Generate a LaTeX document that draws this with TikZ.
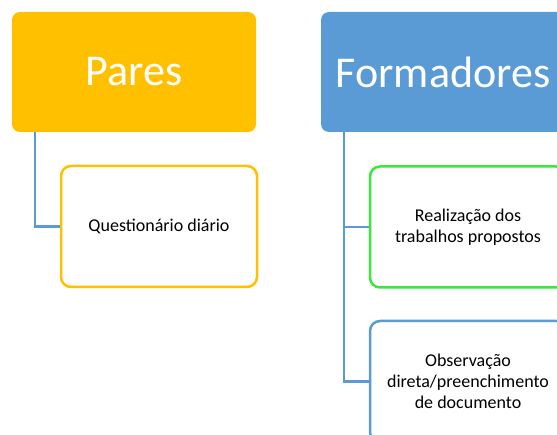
\documentclass[tikz,border=0pt]{standalone}
\usepackage{fontspec}
\setmainfont{Carlito}
\definecolor{paresorange}{RGB}{255,192,0}
\definecolor{formblue}{RGB}{91,155,213}
\definecolor{trabgreen}{RGB}{60,230,60}

\begin{document}
\begin{tikzpicture}[x=1pt, y=-1pt,
  headbox/.style = { rounded corners=8pt, minimum width=244pt, minimum height=120pt,
                     inner sep=0pt, text=white, font=\fontsize{44}{50}\selectfont },
  itembox/.style = { draw, line width=2.5pt, rounded corners=10pt, fill=white,
                     minimum width=196pt, minimum height=121pt, inner sep=0pt,
                     align=center, font=\fontsize{18}{21}\selectfont },
  stem/.style    = { draw=formblue, line width=2.5pt }]
  \useasboundingbox (0,0) rectangle (557,435);
  \clip (0,0) rectangle (557,435);
  % heads
  \node [headbox, fill=paresorange] (pares) at (134,72) {Pares};
  \node [headbox, fill=formblue]    (form)  at (443,72) {Formadores};
  % items
  \node [itembox, draw=paresorange] (quest) at (159,226.5) {Questionário diário};
  \node [itembox, draw=trabgreen]   (trab)  at (468,227)   {Realização dos\\trabalhos propostos};
  \node [itembox, draw=formblue]    (obs)   at (468,381.5) {Observação\\direta/preenchimento\\de documento};
  % connectors
  \coordinate (pstem) at (35,132);
  \coordinate (fstem) at (344,132);
  \path [stem] (pstem) |- (quest.west);
  \path [stem] (fstem) |- (trab.west);
  \path [stem] (fstem) |- (obs.west);
\end{tikzpicture}
\end{document}
